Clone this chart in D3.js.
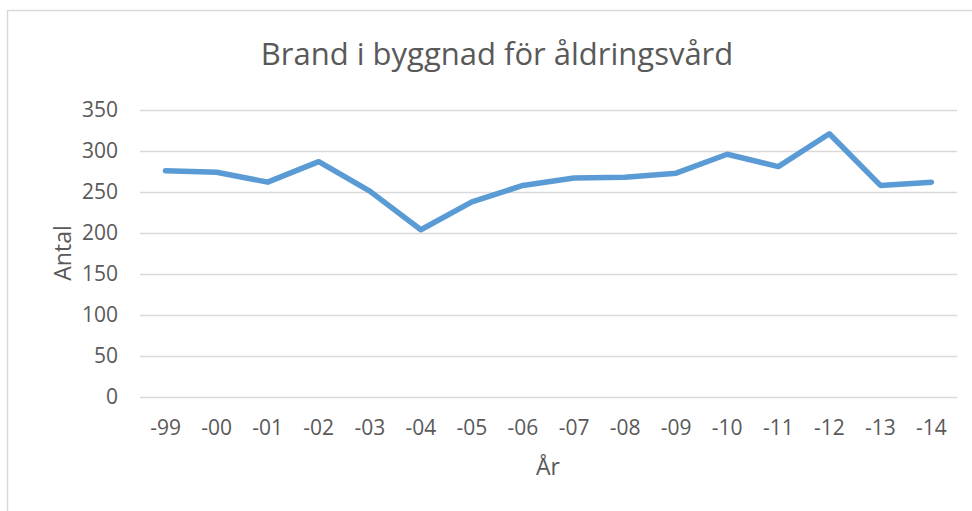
<!DOCTYPE html>
<html>
<head>
<meta charset="utf-8">
<script src="https://cdn.jsdelivr.net/npm/d3@7"></script>
<style>
  body { margin: 0; background: #fff; }
  text { font-family: 'Open Sans', sans-serif; fill: #595959; }
</style>
</head>
<body>
<svg width="972" height="511"></svg>
<script>
const years = ['-99', '-00', '-01', '-02', '-03', '-04', '-05', '-06', '-07', '-08', '-09', '-10', '-11', '-12', '-13', '-14'];
const antal = [276, 274, 262, 287, 251, 204, 238, 258, 267, 268, 273, 296, 281, 321, 258, 262];
const yTicks = [0, 50, 100, 150, 200, 250, 300, 350];

const svg = d3.select('svg');

// outer chart frame (runs off right/bottom like the screenshot)
svg.append('rect')
  .attr('x', 7.5).attr('y', 10.5)
  .attr('width', 1000).attr('height', 600)
  .attr('fill', 'none')
  .attr('stroke', '#d9d9d9')
  .attr('stroke-width', 1.5);

const plotLeft = 140, plotRight = 957, plotTop = 110, plotBottom = 397;

const x = d3.scaleBand().domain(years).range([plotLeft, plotRight]);
const y = d3.scaleLinear().domain([0, 350]).range([plotBottom, plotTop]);

svg.append('text')
  .attr('x', 497)
  .attr('y', 65)
  .attr('text-anchor', 'middle')
  .attr('font-size', '31px')
  .text('Brand i byggnad för åldringsvård');

// gridlines + y labels
const yAxis = svg.append('g')
  .attr('transform', `translate(${plotLeft},0)`)
  .call(d3.axisLeft(y).tickValues(yTicks).tickSize(-(plotRight - plotLeft)).tickPadding(22));
yAxis.select('.domain').remove();
yAxis.selectAll('line').attr('stroke', '#d9d9d9').attr('stroke-width', 1.3);
yAxis.selectAll('text').attr('font-size', '21px').attr('fill', '#595959').style('font-family', "'Open Sans', sans-serif");

const xAxis = svg.append('g')
  .attr('transform', `translate(0,${plotBottom})`)
  .call(d3.axisBottom(x).tickSize(0).tickPadding(23));
xAxis.select('.domain').remove();
xAxis.selectAll('text').attr('font-size', '21px').attr('fill', '#595959').style('font-family', "'Open Sans', sans-serif");

svg.append('text')
  .attr('x', 548)
  .attr('y', 475)
  .attr('text-anchor', 'middle')
  .attr('font-size', '23px')
  .text('År');

svg.append('text')
  .attr('transform', 'translate(71,253) rotate(-90)')
  .attr('text-anchor', 'middle')
  .attr('font-size', '23px')
  .text('Antal');

const line = d3.line()
  .x((d, i) => x(years[i]) + x.bandwidth() / 2)
  .y((d) => y(d));

svg.append('path')
  .datum(antal)
  .attr('d', line)
  .attr('fill', 'none')
  .attr('stroke', '#5b9bd5')
  .attr('stroke-width', 5.5)
  .attr('stroke-linejoin', 'round')
  .attr('stroke-linecap', 'round');
</script>
</body>
</html>
